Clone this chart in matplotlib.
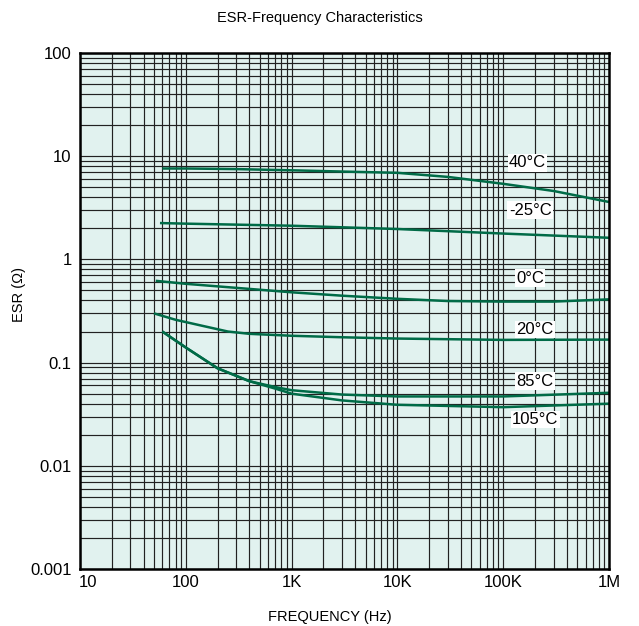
import numpy as np
import matplotlib.pyplot as plt
import matplotlib.transforms as mtransforms
from matplotlib.ticker import LogLocator, NullFormatter

plt.rcParams['font.family'] = ['Liberation Sans', 'DejaVu Sans']

xticks = [10, 100, 1e3, 1e4, 1e5, 1e6]
xticklabels = ['10', '100', '1K', '10K', '100K', '1M']
yticks = [0.001, 0.01, 0.1, 1, 10, 100]
yticklabels = ['0.001', '0.01', '0.1', '1', '10', '100']

f_40 = [60, 100, 300, 1e3, 3e3, 1e4, 3e4, 1e5, 3e5, 1e6]
esr_40 = [7.6, 7.6, 7.5, 7.3, 7.1, 6.9, 6.3, 5.4, 4.6, 3.6]

f_m25 = [57, 100, 1e3, 1e4, 1e5, 1e6]
esr_m25 = [2.25, 2.22, 2.12, 1.97, 1.78, 1.62]

f_0 = [52, 100, 300, 1e3, 3e3, 1e4, 3e4, 1e5, 3e5, 1e6]
esr_0 = [0.62, 0.58, 0.53, 0.48, 0.445, 0.415, 0.395, 0.39, 0.39, 0.41]

f_20 = [50, 80, 136, 250, 400, 1e3, 3e3, 1e4, 1e5, 1e6]
esr_20 = [0.30, 0.26, 0.23, 0.20, 0.19, 0.182, 0.176, 0.171, 0.166, 0.167]

f_85 = [60, 100, 200, 400, 700, 1e3, 3e3, 1e4, 1e5, 1e6]
esr_85 = [0.20, 0.14, 0.088, 0.066, 0.058, 0.054, 0.049, 0.047, 0.047, 0.051]

f_105 = [60, 100, 200, 400, 700, 1e3, 3e3, 1e4, 1e5, 1e6]
esr_105 = [0.20, 0.14, 0.088, 0.066, 0.056, 0.050, 0.043, 0.039, 0.037, 0.040]

labels = ['40°C', '-25°C', '0°C', '20°C', '85°C', '105°C']
label_x = [1.7e5, 1.8e5, 1.8e5, 2.0e5, 2.0e5, 2.0e5]
label_y = [8.6, 3.0, 0.66, 0.21, 0.066, 0.028]

curves = [(f_40, esr_40), (f_m25, esr_m25), (f_0, esr_0),
          (f_20, esr_20), (f_85, esr_85), (f_105, esr_105)]

fig = plt.figure(figsize=(6.39, 6.26), dpi=100)
ax = fig.add_axes([80/639, 1-569/626, 529/639, 516/626])
ax.set_facecolor('#e1f2ef')
ax.set_xscale('log')
ax.set_yscale('log')
ax.set_xlim(10, 1e6)
ax.set_ylim(0.001, 100)

ax.xaxis.set_minor_locator(LogLocator(base=10, subs=np.arange(2, 10)))
ax.yaxis.set_minor_locator(LogLocator(base=10, subs=np.arange(2, 10)))
ax.xaxis.set_minor_formatter(NullFormatter())
ax.yaxis.set_minor_formatter(NullFormatter())
ax.set_xticks(xticks)
ax.set_xticklabels(xticklabels)
ax.set_yticks(yticks)
ax.set_yticklabels(yticklabels)
ax.tick_params(which='both', length=0, labelsize=12)
ax.tick_params(axis='x', pad=4)
ax.tick_params(axis='y', pad=6)
ax.grid(which='both', color='#222222', lw=0.85)
ax.set_axisbelow(True)

# the "10" label sits a little right of its tick
first = ax.get_xticklabels()[0]
first.set_transform(first.get_transform() +
                    mtransforms.ScaledTranslation(8/100, 0, fig.dpi_scale_trans))

for sp in ax.spines.values():
    sp.set_linewidth(1.8)
    sp.set_color('black')

for (f, e) in curves:
    ax.plot(f, e, color='#006b47', lw=1.8, solid_capstyle='butt')

for t, x, y in zip(labels, label_x, label_y):
    ax.text(x, y, t, ha='center', va='center', fontsize=12,
            bbox=dict(facecolor='white', edgecolor='none', pad=1))

fig.text(0.5, 1-18/626, 'ESR-Frequency Characteristics', ha='center', va='center', fontsize=10.5)
ax.set_xlabel('FREQUENCY (Hz)', fontsize=10.5)
ax.xaxis.set_label_coords((330-80)/529, -(610-569)/516)
ax.set_ylabel('ESR (Ω)', fontsize=10.5)
ax.yaxis.set_label_coords(-(80-26)/529, (569-295)/516)

fig.savefig('out.png', dpi=100)
